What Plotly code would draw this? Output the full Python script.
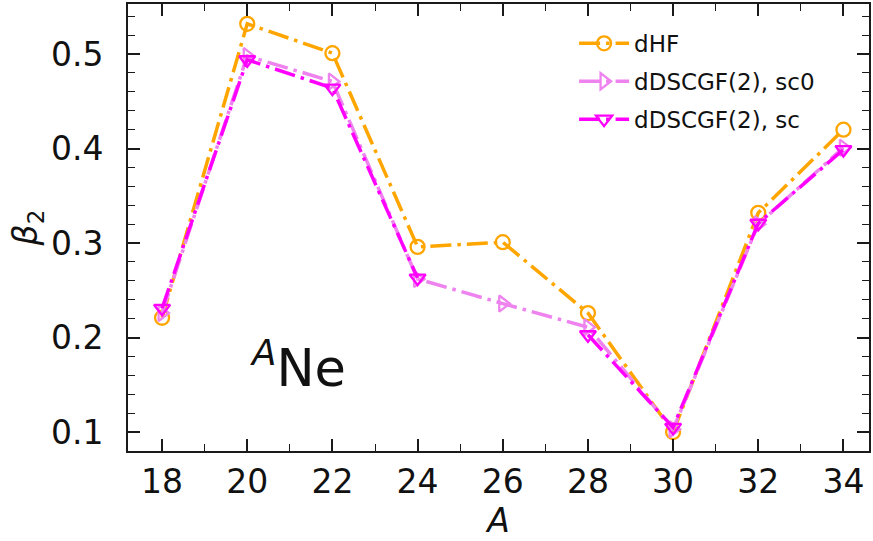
import plotly.graph_objects as go

# Mass numbers of the neon isotopes
mass_number = [18, 20, 22, 24, 26, 28, 30, 32, 34]

# Quadrupole deformation beta_2 for each method
beta2_dhf = [0.221, 0.532, 0.501, 0.296, 0.301, 0.226, 0.100, 0.332, 0.420]
beta2_sc0 = [0.226, 0.498, 0.471, 0.262, 0.236, 0.211, 0.103, 0.320, 0.401]
beta2_sc = [0.231, 0.494, 0.464, 0.263, None, 0.203, 0.105, 0.321, 0.399]

x_ticks = [18, 20, 22, 24, 26, 28, 30, 32, 34]
y_ticks = [0.1, 0.2, 0.3, 0.4, 0.5]

FONT = "DejaVu Sans"
DASHDOT = "21px,6px,3.5px,6px"

series = [
    ("dHF", beta2_dhf, "#FFA500", "circle-open"),
    ("dDSCGF(2), sc0", beta2_sc0, "#EE82EE", "triangle-right-open"),
    ("dDSCGF(2), sc", beta2_sc, "#FF00FF", "triangle-down-open"),
]

fig = go.Figure()
for name, values, color, symbol in series:
    fig.add_trace(go.Scatter(
        x=mass_number, y=values, name=name, mode="lines+markers",
        legendgroup=name, connectgaps=False,
        line=dict(color=color, width=3.5, dash=DASHDOT),
        marker=dict(symbol=symbol, size=14, color=color,
                    line=dict(color=color, width=2.3)),
    ))

axis_common = dict(
    showline=True, linewidth=2, linecolor="#1a1a1a", mirror="allticks",
    ticks="inside", ticklen=12, tickwidth=1.8, tickcolor="#1a1a1a",
    showgrid=False, zeroline=False,
    tickfont=dict(family=FONT, size=33, color="#111"),
)

fig.update_xaxes(
    range=[17.2, 34.6], tickvals=x_ticks,
    minor=dict(dtick=1, ticks="inside", ticklen=7, tickwidth=1.4,
               tickcolor="#1a1a1a", showgrid=False),
    title=dict(text="<i>A</i>", font=dict(family=FONT, size=33, color="#111"),
               standoff=8),
    **axis_common,
)
fig.update_yaxes(
    range=[0.08, 0.553], tickvals=y_ticks, ticktext=[f"{v:.1f}" for v in y_ticks],
    minor=dict(tick0=0.0, dtick=0.02, ticks="inside", ticklen=7, tickwidth=1.4,
               tickcolor="#1a1a1a", showgrid=False),
    ticklabelstandoff=16,
    title=dict(text="<i>β</i><sub>2</sub>", font=dict(family=FONT, size=33, color="#111"),
               standoff=3),
    **axis_common,
)

fig.add_annotation(
    x=21.2, y=0.171, xref="x", yref="y", showarrow=False,
    text="<sup><i>A</i></sup>Ne",
    font=dict(family=FONT, size=51, color="#111"),
    xanchor="center", yanchor="middle",
)

fig.update_layout(
    width=873, height=541,
    margin=dict(l=128, r=2, t=3, b=90),
    paper_bgcolor="white", plot_bgcolor="white",
    showlegend=True,
    legend=dict(
        x=0.602, y=0.96, xanchor="left", yanchor="top",
        font=dict(family=FONT, size=23, color="#111"),
        bgcolor="rgba(0,0,0,0)", borderwidth=0,
        tracegroupgap=5, itemwidth=50,
    ),
)

fig.write_html("out.html")
